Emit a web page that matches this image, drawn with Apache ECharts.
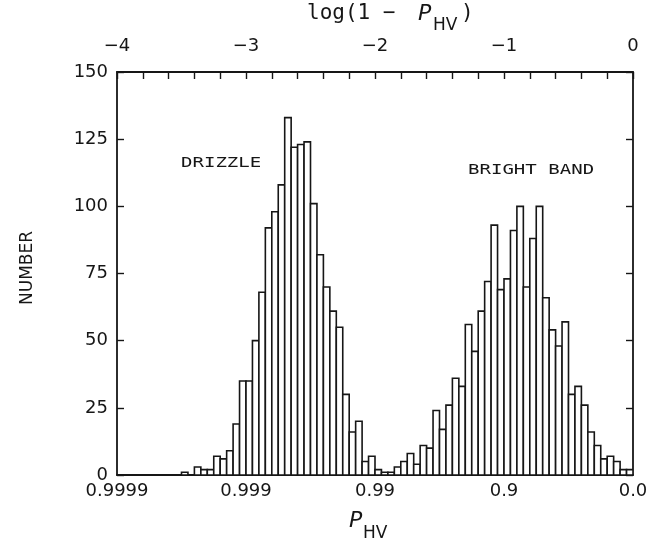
<!DOCTYPE html>
<html>
<head>
<meta charset="utf-8">
<script src="https://cdn.jsdelivr.net/npm/echarts@6/dist/echarts.min.js"></script>
<style>
html,body{margin:0;padding:0;background:#fff;}
#chart{width:654px;height:543px;}
</style>
</head>
<body>
<div id="chart"></div>
<script>
// Histogram of log(1 - P_HV), bins of width 0.05 starting at -4
const binStart = -4;
const binWidth = 0.05;
const counts = [
  0, 0, 0, 0, 0, 0, 0, 0, 0, 0,
  1, 0, 3, 2, 2, 7, 6, 9, 19, 35,
  35, 50, 68, 92, 98, 108, 133, 122, 123, 124,
  101, 82, 70, 61, 55, 30, 16, 20, 5, 7,
  2, 1, 1, 3, 5, 8, 4, 11, 10, 24,
  17, 26, 36, 33, 56, 46, 61, 72, 93, 69,
  73, 91, 100, 70, 88, 100, 66, 54, 48, 57,
  30, 33, 26, 16, 11, 6, 7, 5, 2, 2
];
const topTickLabels = ['\u22124', '\u22123', '\u22122', '\u22121', '0'];
const bottomTickLabels = ['0.9999', '0.999', '0.99', '0.9', '0.0'];

const data = counts.map((c, i) => [binStart + i * binWidth, binStart + (i + 1) * binWidth, c]);

const chart = echarts.init(document.getElementById('chart'), null, {renderer: 'canvas'});
const ink = '#161616';
const tickFont = {fontFamily: 'DejaVu Sans', fontSize: 18, color: ink};

chart.setOption({
  animation: false,
  backgroundColor: '#ffffff',
  grid: {left: 117, right: 21, top: 72, bottom: 68, containLabel: false},
  xAxis: [
    {
      type: 'value', position: 'bottom', min: -4, max: 0, interval: 1,
      axisLine: {show: true, onZero: false, lineStyle: {color: ink, width: 1.8}},
      axisTick: {show: false},
      splitLine: {show: false},
      axisLabel: Object.assign({}, tickFont, {
        margin: 7,
        formatter: v => bottomTickLabels[Math.round(v) + 4]
      })
    },
    {
      type: 'value', position: 'top', min: -4, max: 0, interval: 1,
      axisLine: {show: true, onZero: false, lineStyle: {color: ink, width: 1.8}},
      axisTick: {show: true, inside: true, length: 7, lineStyle: {color: ink, width: 1.4}},
      minorTick: {show: true, splitNumber: 5, length: 7, lineStyle: {color: ink, width: 1.4}},
      splitLine: {show: false},
      axisLabel: Object.assign({}, tickFont, {
        margin: 17,
        formatter: v => topTickLabels[Math.round(v) + 4]
      })
    }
  ],
  yAxis: [
    {
      type: 'value', position: 'left', min: 0, max: 150, interval: 25,
      axisLine: {show: true, onZero: false, lineStyle: {color: ink, width: 1.8}},
      axisTick: {show: true, inside: true, length: 7, lineStyle: {color: ink, width: 1.4}},
      splitLine: {show: false},
      axisLabel: Object.assign({}, tickFont, {margin: 9})
    },
    {
      type: 'value', position: 'right', min: 0, max: 150, interval: 25,
      axisLine: {show: true, onZero: false, lineStyle: {color: ink, width: 1.8}},
      axisTick: {show: true, inside: true, length: 7, lineStyle: {color: ink, width: 1.4}},
      splitLine: {show: false},
      axisLabel: {show: false}
    }
  ],
  series: [{
    type: 'custom',
    xAxisIndex: 0,
    yAxisIndex: 0,
    data: data,
    clip: true,
    renderItem: function (params, api) {
      const v = api.value(2);
      if (!v) return null;
      const p0 = api.coord([api.value(0), v]);
      const p1 = api.coord([api.value(1), 0]);
      return {
        type: 'rect',
        shape: {x: p0[0], y: p0[1], width: p1[0] - p0[0], height: p1[1] - p0[1]},
        style: {fill: '#ffffff', stroke: ink, lineWidth: 1.6}
      };
    }
  }],
  graphic: [
    // top axis title: log(1 − P_HV)
    {type: 'text', left: 307, top: 3, style: {text: 'log(1 \u2212 ', font: '21px "DejaVu Sans Mono"', fill: ink}},
    {type: 'text', left: 418, top: 3, style: {text: 'P', font: 'italic 22px "DejaVu Sans"', fill: ink}},
    {type: 'text', left: 433, top: 17, style: {text: 'HV', font: '17px "DejaVu Sans"', fill: ink}},
    {type: 'text', left: 461, top: 3, style: {text: ')', font: '21px "DejaVu Sans Mono"', fill: ink}},
    // bottom axis title: P_HV
    {type: 'text', left: 349, top: 510, style: {text: 'P', font: 'italic 22px "DejaVu Sans"', fill: ink}},
    {type: 'text', left: 363, top: 525, style: {text: 'HV', font: '17px "DejaVu Sans"', fill: ink}},
    // y axis title
    {type: 'text', x: 28, y: 268, rotation: Math.PI / 2,
     style: {text: 'NUMBER', font: '17px "DejaVu Sans"', fill: ink, align: 'center', verticalAlign: 'middle'}},
    // annotations
    {type: 'text', left: 181, top: 156, scaleX: 1.36,
     style: {text: 'DRIZZLE', font: '14px "DejaVu Sans Mono"', fill: ink}},
    {type: 'text', left: 468, top: 163, scaleX: 1.36,
     style: {text: 'BRIGHT BAND', font: '14px "DejaVu Sans Mono"', fill: ink}}
  ]
});
</script>
</body>
</html>
